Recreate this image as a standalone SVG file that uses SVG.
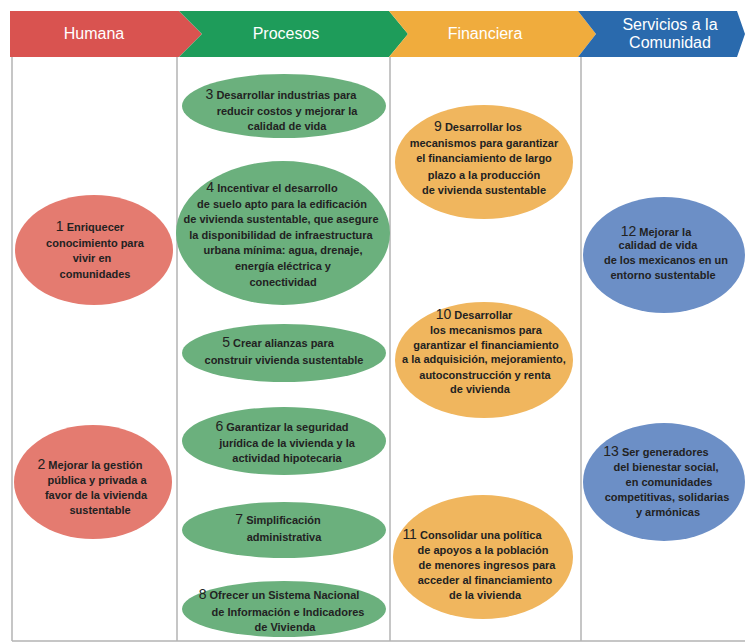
<svg xmlns="http://www.w3.org/2000/svg" width="745" height="643" viewBox="0 0 745 643">
<style>
.hdr{font-family:"Liberation Sans",Arial,sans-serif;font-size:16px;fill:#ffffff;text-anchor:middle}
.t{font-family:"Liberation Sans",Arial,sans-serif;font-size:11px;font-weight:bold;fill:#222222;text-anchor:middle}
.n{font-size:14px;font-weight:normal}
.grid{stroke:#b4b4b4;stroke-width:1.5;fill:none}
.red{fill:#E47B70}
.green{fill:#6BB07D}
.orange{fill:#F0B65E}
.blue{fill:#6C8FC6}
</style>
<rect width="745" height="643" fill="#ffffff"/>
<g id="grid">
<path class="grid" d="M12,57 V641 M177,57 V641 M390,57 V641 M581,57 V641 M12,641 H745"/>
</g>
<g id="headers">
<g id="h-humana">
<polygon points="10,11 179,11 202,34 179,57 10,57" fill="#D95350"/>
<text class="hdr" x="94" y="39">Humana</text>
</g>
<g id="h-procesos">
<polygon points="179,11 389,11 408,34 389,57 179,57 202,34" fill="#1E9C5A"/>
<text class="hdr" x="286" y="39">Procesos</text>
</g>
<g id="h-financiera">
<polygon points="389,11 578,11 596,34 578,57 389,57 408,34" fill="#F0AC3D"/>
<text class="hdr" x="485" y="39">Financiera</text>
</g>
<g id="h-servicios">
<polygon points="578,11 737,11 745,34 737,57 578,57 596,34" fill="#2A6AAD"/>
<text class="hdr" x="670" y="30">Servicios a la</text>
<text class="hdr" x="670" y="48">Comunidad</text>
</g>
</g>
<g id="connectors"></g>
<g id="n1">
<ellipse class="red" cx="94" cy="250" rx="79" ry="55"/>
<text class="t" x="90" y="231"><tspan class="n">1</tspan> Enriquecer</text>
<text class="t" x="95" y="247">conocimiento para</text>
<text class="t" x="92" y="262">vivir en</text>
<text class="t" x="95" y="278">comunidades</text>
</g>
<g id="n2">
<ellipse class="red" cx="93" cy="482" rx="79" ry="57"/>
<text class="t" x="90" y="469"><tspan class="n">2</tspan> Mejorar la gestión</text>
<text class="t" x="97" y="484">pública y privada a</text>
<text class="t" x="96" y="499">favor de la vivienda</text>
<text class="t" x="100" y="514">sustentable</text>
</g>
<g id="n3">
<ellipse class="green" cx="284" cy="106" rx="102" ry="32"/>
<text class="t" x="281" y="99"><tspan class="n">3</tspan> Desarrollar industrias para</text>
<text class="t" x="287" y="115">reducir costos y mejorar la</text>
<text class="t" x="287" y="130">calidad de vida</text>
</g>
<g id="n4">
<ellipse class="green" cx="283" cy="233" rx="107" ry="72"/>
<text class="t" x="272" y="192"><tspan class="n">4</tspan> Incentivar el desarrollo</text>
<text class="t" x="282" y="208">de suelo apto para la edificación</text>
<text class="t" x="281" y="223">de vivienda sustentable, que asegure</text>
<text class="t" x="281" y="239">la disponibilidad de infraestructura</text>
<text class="t" x="283" y="254">urbana mínima: agua, drenaje,</text>
<text class="t" x="283" y="270">energía eléctrica y</text>
<text class="t" x="283" y="286">conectividad</text>
</g>
<g id="n5">
<ellipse class="green" cx="284" cy="353" rx="102" ry="29"/>
<text class="t" x="278" y="347"><tspan class="n">5</tspan> Crear alianzas para</text>
<text class="t" x="284" y="364">construir vivienda sustentable</text>
</g>
<g id="n6">
<ellipse class="green" cx="284" cy="441" rx="102" ry="34"/>
<text class="t" x="282" y="431"><tspan class="n">6</tspan> Garantizar la seguridad</text>
<text class="t" x="287" y="447">jurídica de la vivienda y la</text>
<text class="t" x="287" y="462">actividad hipotecaria</text>
</g>
<g id="n7">
<ellipse class="green" cx="284" cy="530" rx="102" ry="28"/>
<text class="t" x="278" y="524"><tspan class="n">7</tspan> Simplificación</text>
<text class="t" x="284" y="541">administrativa</text>
</g>
<g id="n8">
<ellipse class="green" cx="284" cy="609" rx="102" ry="28"/>
<text class="t" x="279" y="599"><tspan class="n">8</tspan> Ofrecer un Sistema Nacional</text>
<text class="t" x="288" y="616">de Información e Indicadores</text>
<text class="t" x="285" y="631">de Vivienda</text>
</g>
<g id="n9">
<ellipse class="orange" cx="484" cy="162" rx="89" ry="57"/>
<text class="t" x="478" y="131"><tspan class="n">9</tspan> Desarrollar los</text>
<text class="t" x="484" y="147">mecanismos para garantizar</text>
<text class="t" x="484" y="162">el financiamiento de largo</text>
<text class="t" x="484" y="179">plazo a la producción</text>
<text class="t" x="484" y="194">de vivienda sustentable</text>
</g>
<g id="n10">
<ellipse class="orange" cx="484" cy="360" rx="89" ry="58"/>
<text class="t" x="474" y="319"><tspan class="n">10</tspan> Desarrollar</text>
<text class="t" x="486" y="334">los mecanismos para</text>
<text class="t" x="486" y="349">garantizar el financiamiento</text>
<text class="t" x="484" y="363">a la adquisición, mejoramiento,</text>
<text class="t" x="485" y="379">autoconstrucción y renta</text>
<text class="t" x="480" y="393">de vivienda</text>
</g>
<g id="n11">
<ellipse class="orange" cx="483" cy="557" rx="90" ry="62"/>
<text class="t" x="472" y="539"><tspan class="n">11</tspan> Consolidar una política</text>
<text class="t" x="483" y="554">de apoyos a la población</text>
<text class="t" x="487" y="569">de menores ingresos para</text>
<text class="t" x="485" y="584">acceder al financiamiento</text>
<text class="t" x="485" y="599">de la vivienda</text>
</g>
<g id="n12">
<ellipse class="blue" cx="664" cy="255" rx="81" ry="58"/>
<text class="t" x="656" y="236"><tspan class="n">12</tspan> Mejorar la</text>
<text class="t" x="658" y="249">calidad de vida</text>
<text class="t" x="666" y="264">de los mexicanos en un</text>
<text class="t" x="663" y="279">entorno sustentable</text>
</g>
<g id="n13">
<ellipse class="blue" cx="664" cy="482" rx="81" ry="59"/>
<text class="t" x="656" y="456"><tspan class="n">13</tspan> Ser generadores</text>
<text class="t" x="666" y="471">del bienestar social,</text>
<text class="t" x="669" y="486">en comunidades</text>
<text class="t" x="667" y="501">competitivas, solidarias</text>
<text class="t" x="668" y="516">y armónicas</text>
</g>
</svg>
